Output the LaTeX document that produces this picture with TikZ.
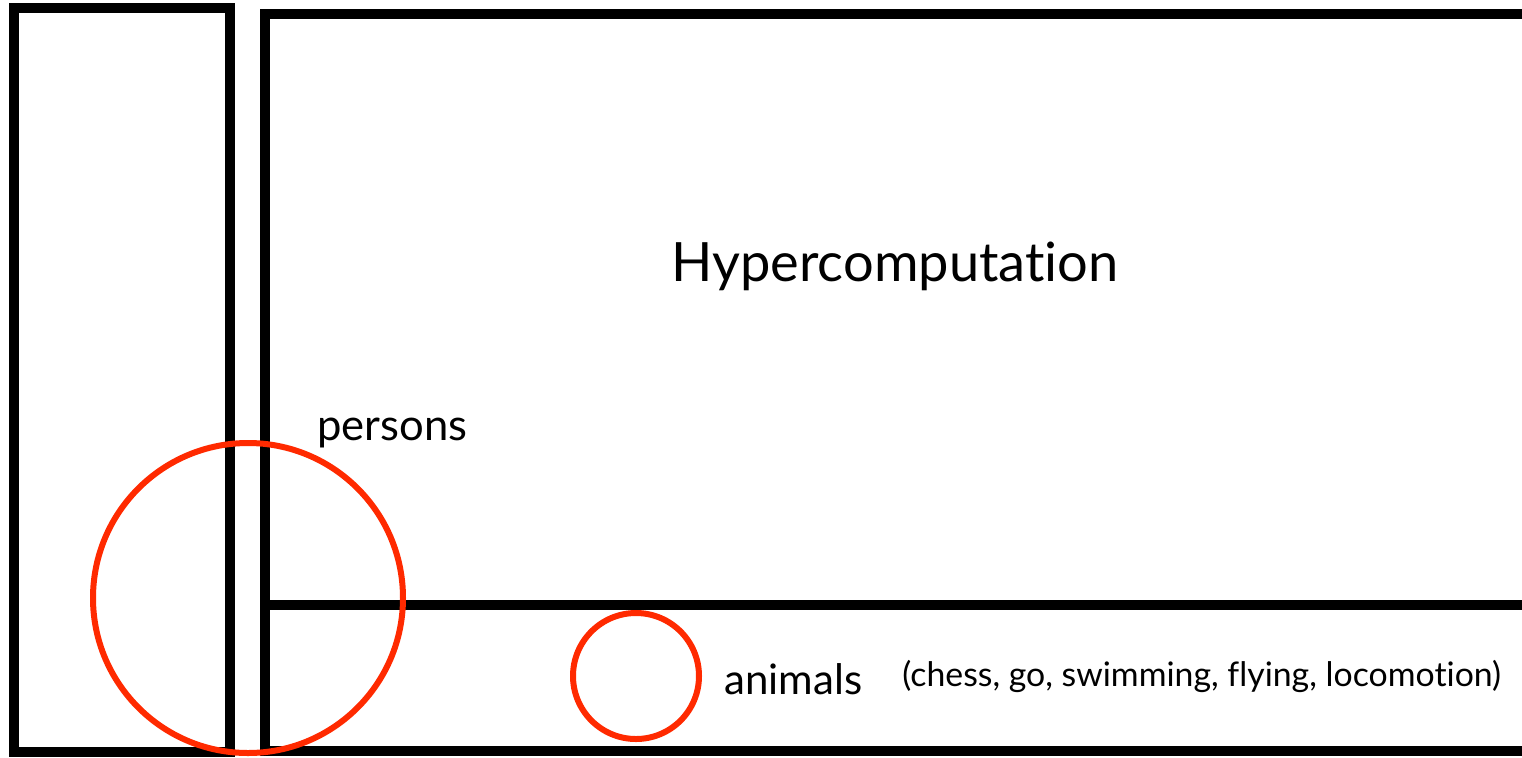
\documentclass[tikz,border=0pt]{standalone}
\usepackage{fontspec}
\setmainfont{Lato}[RawFeature=-liga]
\definecolor{circred}{HTML}{FF2A00}
\begin{document}
\begin{tikzpicture}[x=0.5pt,y=-0.5pt,
  frame/.style={draw=black,line width=5pt},
  ring/.style={draw=circred,line width=3pt,circle,inner sep=0pt,outer sep=0pt},
  lbl/.style={anchor=base west,inner sep=0pt,text=black}]
\useasboundingbox (0,0) rectangle (1522,757);
\fill[white] (0,0) rectangle (1522,757);
% frames
\draw[frame] (14,8) rectangle (230,752);
\draw[frame] (265,14) rectangle (1527,751);
\coordinate (divL) at (267,605);
\coordinate (divR) at (1527,605);
\draw[frame] (divL) -- (divR);
% circles
\node[ring,minimum size=155pt] (persc) at (248,598) {};
\node[ring,minimum size=63pt] (animc) at (636,676) {};
% labels
\node[lbl,font=\fontsize{27.1}{30}\selectfont] (hyper) at (671,281) {Hypercomputation};
\node[lbl,font=\fontsize{21.8}{24}\selectfont] (persons) at (317,440) {persons};
\node[lbl,font=\fontsize{21}{24}\selectfont] (animals) at (724,694) {animals};
\node[lbl,font=\fontsize{16.9}{18}\selectfont] (examples) at (902,686) {(chess, go, swimming, flying, locomotion)};
\end{tikzpicture}
\end{document}
